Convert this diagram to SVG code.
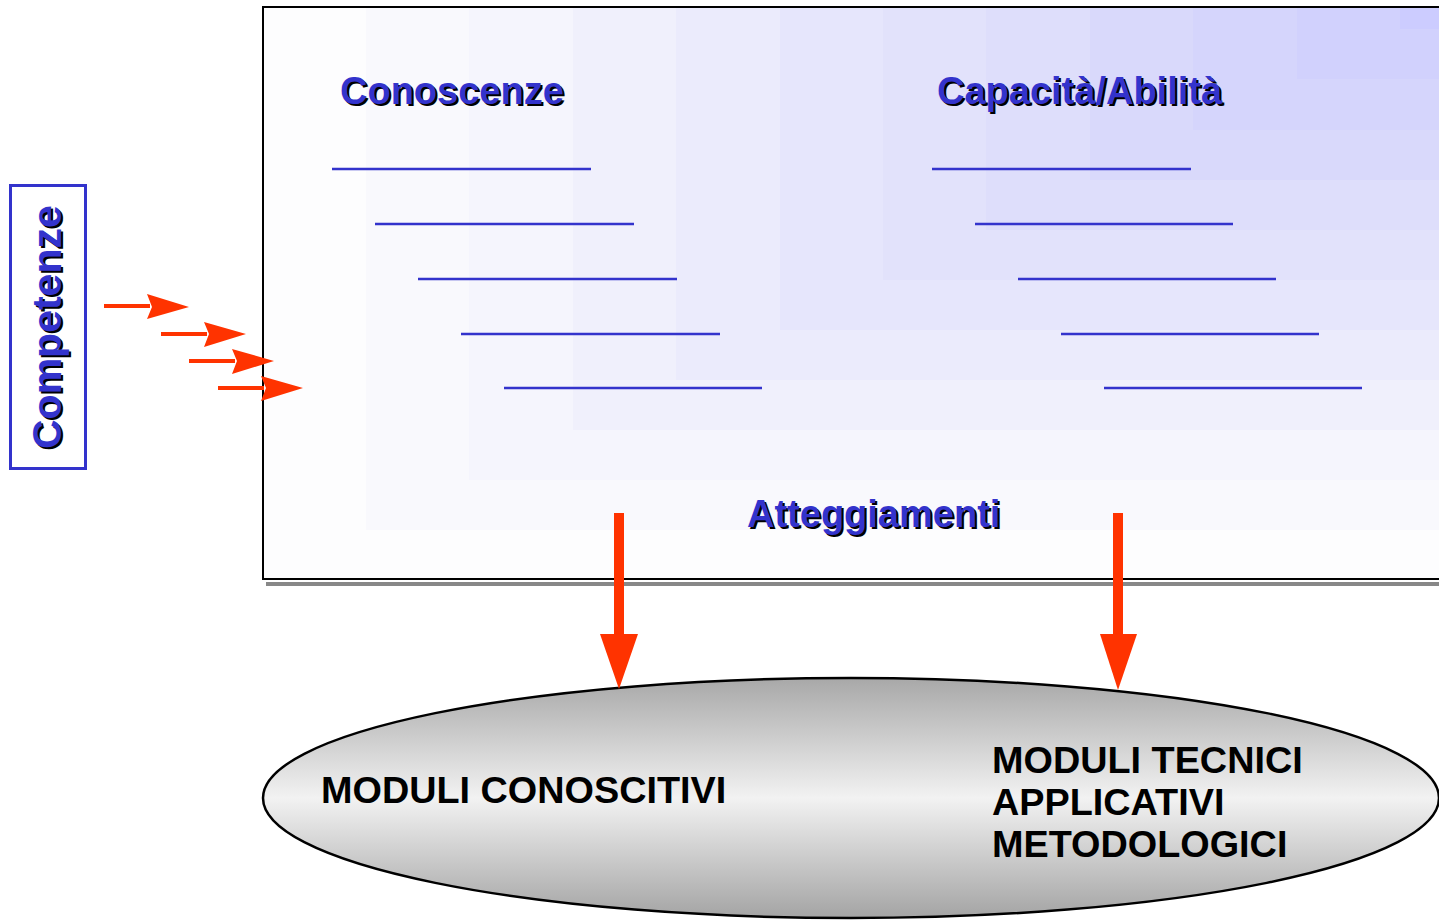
<svg xmlns="http://www.w3.org/2000/svg" width="1439" height="921" viewBox="0 0 1439 921">
<style>
.t{font-family:"Liberation Sans",Arial,sans-serif;font-weight:bold;font-size:38px}
.blue{fill:#3333cc}
.sh{fill:#000}
.ln{stroke:#3333cc;stroke-width:2.5}
.red{fill:#ff3300}
.m{font-family:"Liberation Sans",Arial,sans-serif;font-weight:bold;font-size:37.8px;fill:#000}
</style>
<defs>
<linearGradient id="eg" x1="0" y1="0" x2="0" y2="1">
<stop offset="0" stop-color="#a8a8a8"/>
<stop offset="0.5" stop-color="#f2f2f2"/>
<stop offset="1" stop-color="#a4a4a4"/>
</linearGradient>
</defs>
<rect width="1439" height="921" fill="#fff"/>
<g id="main-box">
<rect x="266" y="582" width="1180" height="4" fill="#888"/>
<rect x="263" y="7" width="1180" height="572" fill="#fdfdfe"/>
<rect x="366" y="7" width="1080" height="523" fill="#f9f9fd"/>
<rect x="469" y="7" width="980" height="473" fill="#f5f5fd"/>
<rect x="573" y="7" width="880" height="423" fill="#f0f0fc"/>
<rect x="676" y="7" width="780" height="373" fill="#ebebfc"/>
<rect x="780" y="7" width="680" height="323" fill="#e6e6fc"/>
<rect x="883" y="7" width="580" height="273" fill="#e2e2fb"/>
<rect x="986" y="7" width="480" height="223" fill="#dedefb"/>
<rect x="1090" y="7" width="380" height="173" fill="#d9d9fb"/>
<rect x="1193" y="7" width="280" height="123" fill="#d5d5fc"/>
<rect x="1297" y="7" width="180" height="72" fill="#d1d1fd"/>
<rect x="1400" y="7" width="80" height="22" fill="#ccccff"/>
<rect x="263" y="7" width="1190" height="572" fill="none" stroke="#000" stroke-width="2"/>
<text class="t sh" x="342" y="106">Conoscenze</text>
<text class="t blue" x="340" y="104">Conoscenze</text>
<text class="t sh" x="939" y="106">Capacità/Abilità</text>
<text class="t blue" x="937" y="104">Capacità/Abilità</text>
<text class="t sh" x="749" y="529">Atteggiamenti</text>
<text class="t blue" x="747" y="527">Atteggiamenti</text>
<line class="ln" x1="332" y1="169" x2="591" y2="169"/>
<line class="ln" x1="375" y1="224" x2="634" y2="224"/>
<line class="ln" x1="418" y1="279" x2="677" y2="279"/>
<line class="ln" x1="461" y1="334" x2="720" y2="334"/>
<line class="ln" x1="504" y1="388" x2="762" y2="388"/>
<line class="ln" x1="932" y1="169" x2="1191" y2="169"/>
<line class="ln" x1="975" y1="224" x2="1233" y2="224"/>
<line class="ln" x1="1018" y1="279" x2="1276" y2="279"/>
<line class="ln" x1="1061" y1="334" x2="1319" y2="334"/>
<line class="ln" x1="1104" y1="388" x2="1362" y2="388"/>
</g>
<g id="competenze">
<rect x="10.5" y="185.5" width="75" height="283" fill="#fff" stroke="#3333cc" stroke-width="3"/>
<text class="t sh" transform="translate(63 451) rotate(-90)" style="font-size:41px">Competenze</text>
<text class="t blue" transform="translate(61 449) rotate(-90)" style="font-size:41px">Competenze</text>
</g>
<g id="moduli">
<ellipse cx="851" cy="798" rx="588" ry="120" fill="url(#eg)" stroke="#000" stroke-width="2.5"/>
<text class="m" x="321" y="803">MODULI CONOSCITIVI</text>
<text class="m" x="992" y="773">MODULI TECNICI</text>
<text class="m" x="992" y="815">APPLICATIVI</text>
<text class="m" x="992" y="857">METODOLOGICI</text>
</g>
<g id="connectors">
<rect class="red" x="104" y="304" width="46" height="4"/>
<polygon class="red" points="147,294 189,307 147,319 152,307"/>
<rect class="red" x="161" y="332" width="46" height="4"/>
<polygon class="red" points="204,322 246,334 204,347 209,334"/>
<rect class="red" x="189" y="359" width="46" height="4"/>
<polygon class="red" points="232,349 274,361 232,374 237,361"/>
<rect class="red" x="218" y="386" width="46" height="4"/>
<polygon class="red" points="261,376 303,388 261,401 266,388"/>
<rect class="red" x="614" y="513" width="10" height="125"/>
<polygon class="red" points="600,634 638,634 619,689"/>
<rect class="red" x="1113" y="513" width="10" height="125"/>
<polygon class="red" points="1100,634 1137,634 1118,690"/>
</g>
</svg>
